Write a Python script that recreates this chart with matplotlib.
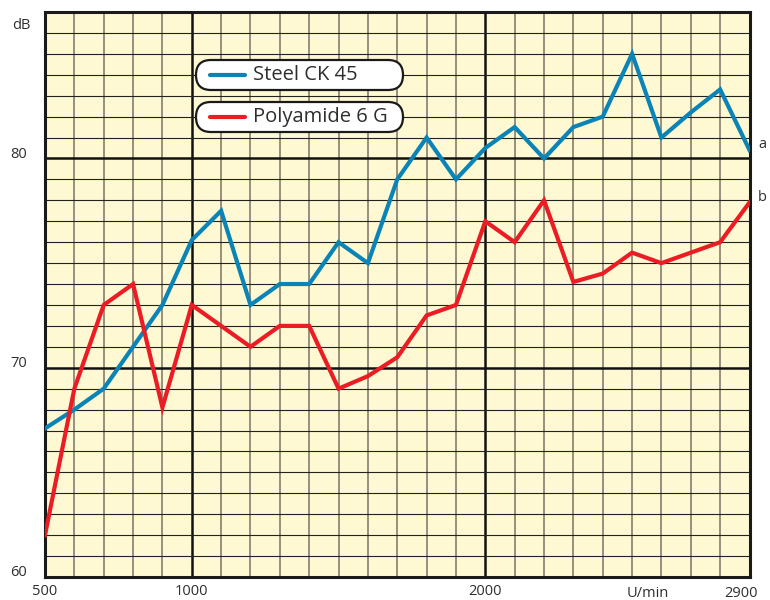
import numpy as np
import matplotlib
matplotlib.use('Agg')
import matplotlib.pyplot as plt
from matplotlib.patches import FancyBboxPatch
from matplotlib.lines import Line2D

#%% Data

rpm         = list(range(500, 3000, 100))
steel       = [67.1, 68.0, 69.0, 71.0, 73.0, 76.1, 77.5, 73.0, 74.0, 74.0,
               76.0, 75.0, 79.0, 81.0, 79.0, 80.5, 81.5, 80.0, 81.5, 82.0,
               85.0, 81.0, 82.2, 83.3, 80.4]
polyamide   = [62.0, 69.0, 73.0, 74.0, 68.1, 73.0, 72.0, 71.0, 72.0, 72.0,
               69.0, 69.6, 70.5, 72.5, 73.0, 77.0, 76.0, 78.0, 74.1, 74.5,
               75.5, 75.0, 75.5, 76.0, 77.9]
series_names = ['Steel CK 45', 'Polyamide 6 G']
end_labels  = ['a', 'b']
x_ticks     = [500, 1000, 2000, 2900]
y_ticks     = [60, 70, 80]

#%% Style

blue        = '#0a84b6'
red         = '#ec1c24'
paper       = '#fff9d3'
text_col    = '#2e2e2e'
plt.rcParams['font.family'] = ['Open Sans', 'DejaVu Sans']

#%% Figure

fig = plt.figure(figsize=(7.7, 6), dpi=100)
ax = fig.add_axes([45/770, 23/600, 704.5/770, 565/600])
ax.set_facecolor(paper)
ax.set_xlim(500, 2900)
ax.set_ylim(60, 87)

# grid: every 100 U/min and every dB
for xv in range(600, 2900, 100):
    if xv in (1000, 2000):
        ax.axvline(xv, color='#111111', lw=1.8, zorder=1)
    else:
        ax.axvline(xv, color='#857e70', lw=1.2, zorder=1)
for yv in range(61, 87):
    if yv in (70, 80):
        ax.axhline(yv, color='#111111', lw=1.8, zorder=1)
    else:
        ax.axhline(yv, color='#222222', lw=0.8, zorder=1)

for sp in ax.spines.values():
    sp.set_color('#1a1a1a')
    sp.set_linewidth(2.2)

ax.plot(rpm, steel, color=blue, lw=3, zorder=3, solid_joinstyle='miter')
ax.plot(rpm, polyamide, color=red, lw=3, zorder=3, solid_joinstyle='miter')

# ticks (2900 sits a bit left of the right edge, as in the original)
ax.set_xticks(x_ticks[:-1])
ax.set_xticklabels([str(v) for v in x_ticks[:-1]], fontsize=10.5, color=text_col)
ax.set_yticks([])
ax.tick_params(axis='x', length=0, pad=5)
ax.text(x_ticks[-1] - 30, 59.22, str(x_ticks[-1]), ha='center', va='center',
        fontsize=10.5, color=text_col, clip_on=False)
for yv in y_ticks:
    ax.text(-0.026, yv + 0.2, str(yv), transform=ax.get_yaxis_transform(),
            ha='right', va='center', fontsize=10.5, color=text_col)
ax.text(-0.02, 86.35, 'dB', transform=ax.get_yaxis_transform(),
        ha='right', va='center', fontsize=10.5, color=text_col)
ax.text(2555, 59.22, 'U/min', ha='center', va='center', fontsize=10.5,
        color=text_col, clip_on=False)

# end labels a / b
for lab, ser in zip(end_labels, [steel, polyamide]):
    ax.text(1.012, ser[-1] + 0.25, lab, transform=ax.get_yaxis_transform(),
            ha='left', va='center', fontsize=10.5, color=text_col)

# legend pills (in inches from the figure corner)
H = 6.0
for i, (name, col) in enumerate(zip(series_names, [blue, red])):
    top = 0.60 + i * 0.42
    box = FancyBboxPatch((1.96, H - top - 0.30), 2.07, 0.30,
                         boxstyle='round,pad=0,rounding_size=0.15',
                         transform=fig.dpi_scale_trans, facecolor='white',
                         edgecolor='#1a1a1a', lw=1.6, zorder=5)
    fig.patches.append(box)
    yc = H - top - 0.15
    fig.lines.append(Line2D([2.10, 2.45], [yc, yc], color=col, lw=3,
                            solid_capstyle='round',
                            transform=fig.dpi_scale_trans, zorder=6))
    fig.text(2.53, yc, name, transform=fig.dpi_scale_trans, ha='left',
             va='center', fontsize=14.5, color=text_col, zorder=6)

fig.savefig('out.png', dpi=100, facecolor='white')
